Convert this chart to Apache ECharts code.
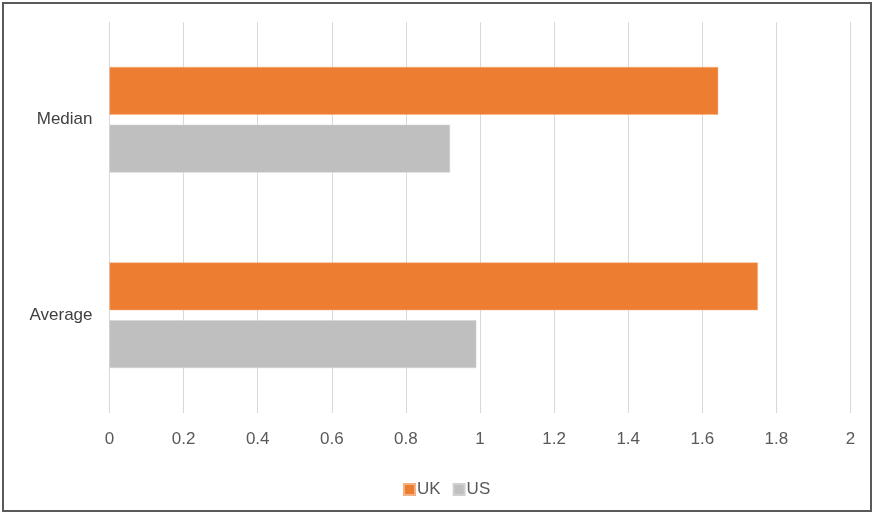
<!DOCTYPE html>
<html>
<head>
<meta charset="utf-8">
<script src="https://cdn.jsdelivr.net/npm/echarts@6/dist/echarts.min.js"></script>
<style>
html,body{margin:0;padding:0;background:#fff;}
#frame{position:absolute;left:2px;top:2px;width:866px;height:506px;border:2px solid #5a5a5a;}
#chart{position:absolute;left:0;top:0;width:872px;height:514px;}
</style>
</head>
<body>
<div id="frame"></div>
<div id="chart"></div>
<script>
const categories = ['Median', 'Average'];
const ukValues = [1.643, 1.750];
const usValues = [0.919, 0.990];
const xTicks = { min: 0, max: 2, interval: 0.2 };

const font = "'Liberation Sans Narrow', 'Arial Narrow', 'Liberation Sans', sans-serif";
const chart = echarts.init(document.getElementById('chart'));
chart.setOption({
  animation: false,
  grid: { left: 109.5, right: 21.5, top: 22, bottom: 101 },
  legend: {
    top: 476, left: 398, itemWidth: 11, itemHeight: 11, itemGap: 12,
    icon: 'rect',
    textStyle: { fontFamily: font, fontSize: 17, color: '#595959', padding: [0, 0, 0, -3] },
    data: ['UK', 'US']
  },
  xAxis: {
    type: 'value', min: xTicks.min, max: xTicks.max, interval: xTicks.interval,
    axisLine: { show: false }, axisTick: { show: false },
    splitLine: { lineStyle: { color: '#d9d9d9', width: 1 } },
    axisLabel: { fontFamily: font, fontSize: 17, color: '#595959', margin: 18,
      formatter: v => String(Math.round(v * 10) / 10) }
  },
  yAxis: {
    type: 'category', data: categories, inverse: true,
    axisLine: { show: false }, axisTick: { show: false },
    axisLabel: { fontFamily: font, fontSize: 17, color: '#404040', margin: 17 }
  },
  series: [
    { name: 'UK', type: 'bar', data: ukValues, barGap: '21%', barCategoryGap: '46%',
      itemStyle: { color: '#ED7D31', borderColor: '#f4b183', borderWidth: 0.5 } },
    { name: 'US', type: 'bar', data: usValues,
      itemStyle: { color: '#BFBFBF', borderColor: '#d0d0d0', borderWidth: 0.5 } }
  ]
});
</script>
</body>
</html>
